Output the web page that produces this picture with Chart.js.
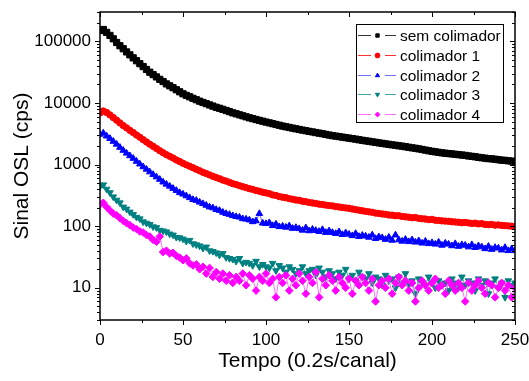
<!DOCTYPE html>
<html>
<head>
<meta charset="utf-8">
<script src="https://cdn.jsdelivr.net/npm/chart.js@4"></script>
<style>
  html, body { margin: 0; padding: 0; background: #fff; }
  #wrap { width: 529px; height: 381px; position: relative; }
</style>
</head>
<body>
<div id="wrap"><canvas id="osl-chart"></canvas></div>
<script>
// canal (x), a cada 2 canais
const canal = [
    0, 2, 4, 6, 8, 10, 12, 14, 16, 18, 20, 22, 24, 26, 28, 30, 32, 34, 36, 38,
    40, 42, 44, 46, 48, 50, 52, 54, 56, 58, 60, 62, 64, 66, 68, 70, 72, 74, 76, 78,
    80, 82, 84, 86, 88, 90, 92, 94, 96, 98, 100, 102, 104, 106, 108, 110, 112, 114, 116, 118,
    120, 122, 124, 126, 128, 130, 132, 134, 136, 138, 140, 142, 144, 146, 148, 150, 152, 154, 156, 158,
    160, 162, 164, 166, 168, 170, 172, 174, 176, 178, 180, 182, 184, 186, 188, 190, 192, 194, 196, 198,
    200, 202, 204, 206, 208, 210, 212, 214, 216, 218, 220, 222, 224, 226, 228, 230, 232, 234, 236, 238,
    240, 242, 244, 246, 248, 250
];

const semColimador = [
    150000, 156000, 140000, 125000, 110000, 96000, 85000, 76000, 67500, 60500,
    54000, 48500, 43500, 39000, 35000, 31600, 28900, 26500, 24200, 22300,
    20400, 19000, 17700, 16400, 15200, 14100, 13300, 12600, 11900, 11300,
    10700, 10200, 9750, 9300, 8900, 8500, 8200, 7880, 7550, 7230,
    6920, 6680, 6430, 6200, 5970, 5750, 5570, 5390, 5220, 5060,
    4900, 4760, 4620, 4480, 4350, 4220, 4110, 4010, 3910, 3810,
    3720, 3630, 3550, 3460, 3390, 3310, 3240, 3170, 3090, 3020,
    2950, 2900, 2850, 2790, 2740, 2690, 2640, 2590, 2530, 2480,
    2430, 2390, 2340, 2300, 2250, 2210, 2170, 2130, 2090, 2060,
    2020, 1990, 1950, 1910, 1870, 1840, 1800, 1760, 1720, 1680,
    1640, 1610, 1580, 1550, 1530, 1510, 1490, 1470, 1450, 1430,
    1410, 1380, 1360, 1340, 1310, 1290, 1270, 1250, 1240, 1220,
    1200, 1180, 1170, 1150, 1140, 1120
];

const colimador1 = [
    6900, 7400, 7000, 6400, 5800, 5250, 4750, 4300, 3950, 3600,
    3310, 3020, 2780, 2540, 2330, 2140, 1980, 1830, 1680, 1560,
    1450, 1360, 1280, 1190, 1120, 1050, 990, 940, 890, 840,
    794, 750, 715, 680, 645, 617, 590, 560, 540, 515,
    490, 475, 455, 438, 422, 407, 395, 380, 370, 356,
    347, 338, 322, 315, 303, 295, 290, 280, 274, 266,
    263, 254, 250, 243, 238, 234, 228, 225, 220, 216,
    214, 208, 205, 201, 198, 195, 190, 186, 182, 178,
    174, 171, 168, 163, 161, 158, 156, 152, 151, 148,
    148, 144, 142, 140, 137, 138, 134, 132, 131, 128,
    129, 125, 124, 122, 121, 120, 118, 117, 116, 114,
    115, 113, 111, 112, 109, 110, 107, 106, 107, 104,
    105, 103, 102, 101, 100, 99
];

const colimador2 = [
    3100, 3250, 2900, 2650, 2380, 2140, 1900, 1700, 1530, 1390,
    1260, 1130, 1020, 920, 840, 760, 690, 630, 575, 520,
    480, 445, 410, 380, 350, 331, 310, 290, 270, 262,
    245, 232, 218, 205, 198, 186, 180, 168, 160, 155,
    148, 143, 140, 132, 130, 126, 118, 122, 160, 112,
    110, 114, 102, 108, 98, 100, 96, 101, 92, 95,
    91, 86, 94, 84, 89, 85, 82, 88, 79, 84,
    79, 76, 81, 73, 78, 74, 70, 76, 68, 71,
    69, 66, 72, 63, 67, 65, 61, 66, 59, 72,
    60, 57, 61, 56, 60, 55, 58, 53, 57, 52,
    54, 51, 55, 49, 53, 51, 48, 52, 47, 50,
    49, 46, 50, 45, 48, 46, 43, 47, 42, 45,
    44, 41, 45, 40, 43, 40
];

const colimador3 = [
    440, 470, 400, 350, 300, 265, 240, 205, 190, 170,
    155, 140, 132, 118, 112, 107, 98, 95, 86, 84,
    81, 75, 72, 66, 65, 62, 57, 59, 52, 50,
    48, 44, 46, 40, 39, 37, 34, 36, 31, 30,
    29, 27, 30, 25, 26, 25, 23, 27, 22, 24,
    22, 21, 25, 19, 23, 21, 18, 22, 20, 17,
    19, 22, 17, 19, 20, 16, 21, 18, 15, 19,
    17, 14, 18, 16, 20, 14, 16, 13, 18, 15,
    14, 17, 12, 15, 14, 11, 16, 13, 14, 10,
    15, 12, 17, 11, 13, 8, 14, 12, 11, 15,
    12, 10, 13, 11, 12, 9, 14, 12, 10, 15,
    11, 13, 12, 9, 14, 11, 13, 8, 12, 14,
    10, 12, 7, 13, 11, 12
];

const colimador4 = [
    225, 240, 205, 180, 160, 150, 135, 122, 112, 104,
    95, 90, 82, 79, 72, 68, 60, 56, 68, 38,
    40, 36, 37, 33, 31, 28, 30, 25, 23, 24,
    20, 22, 17, 21, 15, 18, 14, 17, 13, 16,
    12, 15, 13, 17, 11, 16, 14, 9, 15, 13,
    17, 12, 14, 7, 15, 12, 16, 9, 14, 11,
    17, 13, 8, 15, 12, 18, 7, 14, 11, 16,
    13, 9, 15, 12, 10, 14, 8, 13, 11, 15,
    12, 9, 14, 6, 11, 13, 10, 14, 8, 12,
    15, 11, 13, 9, 12, 6, 10, 13, 11, 9,
    12, 14, 10, 11, 8, 13, 11, 9, 12, 10,
    6, 12, 9, 11, 13, 10, 8, 12, 11, 7,
    10, 12, 9, 11, 7, 10
];

const xTicks = [0, 50, 100, 150, 200, 250];
const yTicks = [10, 100, 1000, 10000, 100000];

const FONT = "'Liberation Sans', Arial, sans-serif";

function pts(values) {
    return canal.map((x, i) => ({ x: x, y: values[i] }));
}

function serie(label, values, pointColor, lineColor, pointStyle, rotation, radius, order) {
    return {
        label: label,
        data: pts(values),
        borderColor: lineColor,
        backgroundColor: pointColor,
        borderWidth: 1,
        pointBackgroundColor: pointColor,
        pointBorderColor: pointColor,
        pointBorderWidth: 1,
        pointStyle: pointStyle,
        rotation: rotation,
        pointRadius: radius,
        tension: 0,
        order: order
    };
}

// molduras, ticks e legenda no estilo do Origin
const framePlugin = {
    id: 'frame',
    afterDraw(chart) {
        const ctx = chart.ctx;
        const a = chart.chartArea;
        const xs = chart.scales.x;
        const ys = chart.scales.y;
        ctx.save();
        ctx.strokeStyle = '#000';
        ctx.lineWidth = 1.5;
        ctx.strokeRect(a.left, a.top, a.right - a.left, a.bottom - a.top);

        ctx.lineWidth = 1;
        ctx.beginPath();
        // x: maiores e menores
        for (let v = 0; v <= 250; v += 25) {
            const px = Math.round(xs.getPixelForValue(v)) + 0.5;
            const len = v % 50 === 0 ? 5 : 3;
            ctx.moveTo(px, a.bottom); ctx.lineTo(px, a.bottom + len);
            ctx.moveTo(px, a.top); ctx.lineTo(px, a.top + len);
        }
        // y log
        for (let e = 0; e <= 5; e++) {
            for (let k = 1; k <= 9; k++) {
                const v = k * Math.pow(10, e);
                if (v < ys.min || v > ys.max) continue;
                const py = Math.round(ys.getPixelForValue(v)) + 0.5;
                const len = k === 1 ? 5 : 3;
                ctx.moveTo(a.left, py); ctx.lineTo(a.left - len, py);
                ctx.moveTo(a.right, py); ctx.lineTo(a.right - len, py);
            }
        }
        ctx.stroke();

        // legenda
        const bx = 356, by = 24, bw = 147, bh = 98;
        ctx.fillStyle = '#fff';
        ctx.fillRect(bx, by, bw, bh);
        ctx.lineWidth = 1;
        ctx.strokeStyle = '#000';
        ctx.strokeRect(bx + 0.5, by + 0.5, bw, bh);
        ctx.font = '15.5px ' + FONT;
        ctx.textBaseline = 'middle';
        chart.data.datasets.forEach((ds, i) => {
            const y = Math.round(35 + i * 19.8) + 0.5;
            ctx.strokeStyle = ds.borderColor;
            ctx.lineWidth = 1.2;
            ctx.beginPath();
            ctx.moveTo(358, y); ctx.lineTo(371, y);
            ctx.moveTo(385, y); ctx.lineTo(396, y);
            ctx.stroke();
            ctx.fillStyle = ds.pointBackgroundColor;
            ctx.strokeStyle = ds.pointBackgroundColor;
            ctx.lineWidth = 1;
            Chart.helpers.drawPoint(ctx, {
                pointStyle: ds.pointStyle,
                rotation: ds.rotation,
                radius: 2.4,
                borderWidth: 1
            }, 377.5, y);
            ctx.fillStyle = '#000';
            ctx.fillText(ds.label, 400, y + 1);
        });
        ctx.restore();
    }
};

const ctx = document.getElementById('osl-chart').getContext('2d');

new Chart(ctx, {
    type: 'line',
    data: {
        datasets: [
            serie('sem colimador', semColimador, '#000000', '#333333', 'rect', 0, 4.4, 4),
            serie('colimador 1', colimador1, '#ff0000', '#ff3030', 'circle', 0, 3.2, 3),
            serie('colimador 2', colimador2, '#0000ff', '#7070ff', 'triangle', 0, 3.8, 2),
            serie('colimador 3', colimador3, '#008080', '#40a8a8', 'triangle', 180, 3.8, 1),
            serie('colimador 4', colimador4, '#ff00ff', '#ff70ff', 'rectRot', 0, 3.8, 0)
        ]
    },
    options: {
        responsive: true,
        maintainAspectRatio: false,
        animation: false,
        layout: { padding: { top: 12, right: 14, left: 0, bottom: 0 } },
        plugins: {
            legend: { display: false },
            tooltip: { enabled: false }
        },
        scales: {
            x: {
                type: 'linear',
                min: 0,
                max: 250,
                grid: { display: false, drawTicks: false },
                border: { display: false },
                afterBuildTicks: scale => { scale.ticks = xTicks.map(v => ({ value: v })); },
                afterFit: scale => {
                    scale.height = 61;
                    scale.paddingLeft = 0;
                    scale.paddingRight = 0;
                },
                ticks: {
                    padding: 10,
                    maxRotation: 0,
                    color: '#000',
                    font: { family: FONT, size: 17 },
                    callback: v => String(v)
                },
                title: {
                    display: true,
                    text: 'Tempo (0.2s/canal)',
                    color: '#000',
                    font: { family: FONT, size: 21 },
                    padding: { top: 0, bottom: 7 }
                }
            },
            y: {
                type: 'logarithmic',
                min: 3,
                max: 300000,
                grid: { display: false, drawTicks: false },
                border: { display: false },
                afterBuildTicks: scale => { scale.ticks = yTicks.map(v => ({ value: v })); },
                afterFit: scale => {
                    scale.width = 100;
                    scale.paddingTop = 0;
                    scale.paddingBottom = 0;
                },
                ticks: {
                    padding: 9,
                    color: '#000',
                    font: { family: FONT, size: 17 },
                    callback: v => String(v)
                },
                title: {
                    display: true,
                    text: 'Sinal OSL (cps)',
                    color: '#000',
                    font: { family: FONT, size: 21 },
                    padding: { top: 10, bottom: 0 }
                }
            }
        }
    },
    plugins: [framePlugin]
});
</script>
</body>
</html>
